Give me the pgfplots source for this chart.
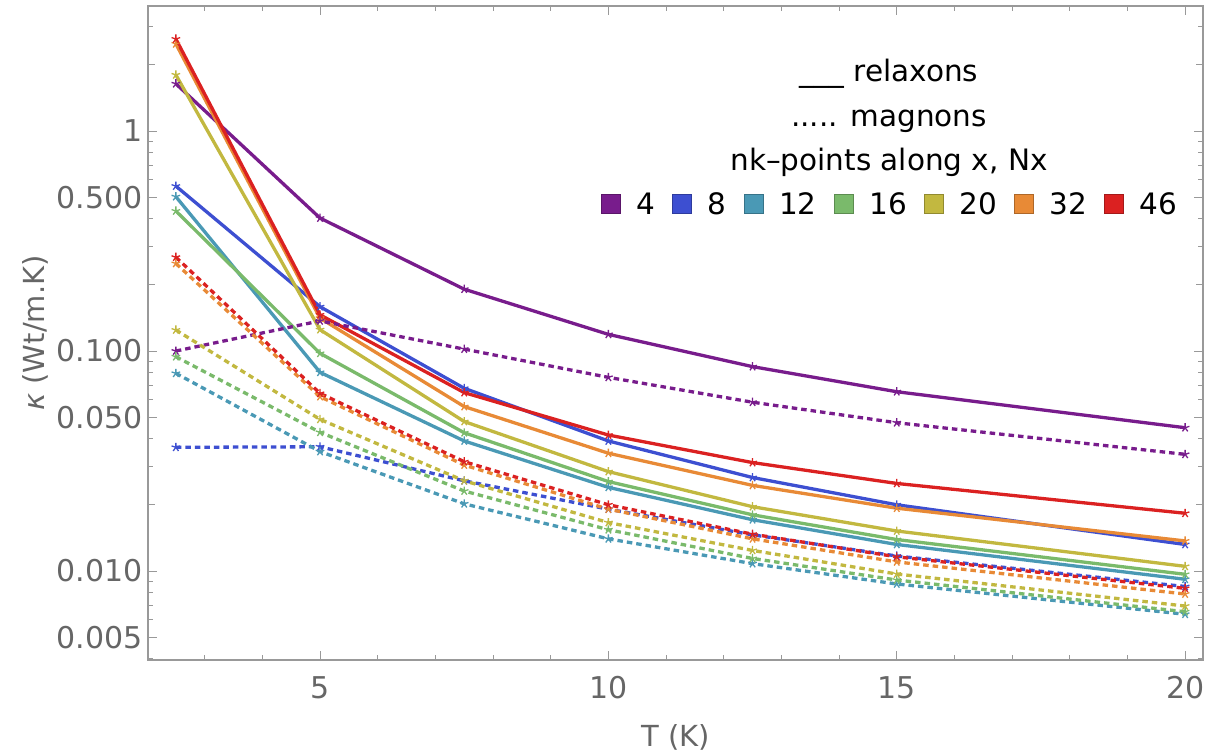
\documentclass[border=0pt]{standalone}
\usepackage{fontspec}
\setmainfont{DejaVu Sans}
\usepackage{pgfplots}
\usepackage{pgfplotstable}
\pgfplotsset{compat=1.18}

\definecolor{c4}{rgb}{0.47,0.11,0.55}
\definecolor{c8}{rgb}{0.24,0.31,0.82}
\definecolor{c12}{rgb}{0.29,0.60,0.71}
\definecolor{c16}{rgb}{0.48,0.73,0.42}
\definecolor{c20}{rgb}{0.76,0.72,0.25}
\definecolor{c32}{rgb}{0.91,0.54,0.21}
\definecolor{c46}{rgb}{0.86,0.13,0.13}
\definecolor{axgray}{rgb}{0.6,0.6,0.6}
\definecolor{labgray}{rgb}{0.4,0.4,0.4}

\pgfplotstableread{
T    k4     k8     k12     k16     k20     k32     k46
2.5  1.64   0.562  0.503   0.433   1.80    2.49    2.62
5    0.402  0.159  0.080   0.0976  0.125   0.141   0.146
7.5  0.191  0.0677 0.0390  0.0425  0.0478  0.0559  0.0647
10   0.119  0.0390 0.0240  0.0255  0.0283  0.0343  0.0415
12.5 0.0849 0.0266 0.0171  0.0180  0.0196  0.0245  0.0311
15   0.0653 0.0200 0.0132  0.0139  0.0152  0.0193  0.0250
20   0.0448 0.0132 0.00917 0.00966 0.0105  0.0137  0.0183
}\relaxons

\pgfplotstableread{
T    k4     k8     k12     k16     k20     k32     k46
2.5  0.100  0.0365 0.0792  0.0942  0.1246  0.250   0.267
5    0.137  0.0367 0.0349  0.0427  0.0489  0.0620  0.0642
7.5  0.102  0.0257 0.0202  0.0231  0.0257  0.0303  0.0314
10   0.0759 0.0191 0.0140  0.0154  0.0166  0.0191  0.0200
12.5 0.0585 0.0146 0.0108  0.0114  0.0124  0.0140  0.0147
15   0.0472 0.0117 0.00873 0.0091  0.00969 0.0110  0.0116
20   0.0339 0.0085 0.00636 0.00653 0.00693 0.00786 0.00834
}\magnons

\begin{document}
\begin{tikzpicture}
\useasboundingbox (-148bp,-94bp) rectangle (1069bp,660bp);
\begin{axis}[
  at={(0,0)}, anchor=south west,
  scale only axis, width=1055bp, height=654bp,
  ymode=log,
  xmin=2.017, xmax=20.31,
  ymin=0.00394, ymax=3.70,
  axis line style={axgray, line width=1.1bp},
  tick style={axgray, line width=0.9bp},
  tick align=inside, tick pos=both,
  major tick length=9bp, minor tick length=5bp,
  xtick={5,10,15,20},
  minor xtick={3,4,6,7,8,9,11,12,13,14,16,17,18,19,20},
  ytick={0.005,0.01,0.05,0.1,0.5,1},
  yticklabels={0.005,0.010,0.050,0.100,0.500,1},
  minor ytick={0.004,0.006,0.007,0.008,0.009,0.02,0.03,0.04,0.06,0.07,0.08,0.09,0.2,0.3,0.4,0.6,0.7,0.8,0.9,2,3},
  extra y ticks={0.02,0.2,2},
  extra y tick labels={},
  extra y tick style={major tick length=7bp},
  /pgf/number format/assume math mode=true,
  ticklabel style={font=\fontsize{30bp}{34bp}\selectfont, text=labgray},
  xticklabel style={yshift=-13bp},
  yticklabel style={xshift=-2bp},
  xlabel={T (K)},
  ylabel={\textit{κ} (Wt/m.K)},
  every axis x label/.style={at={(rel axis cs:0.5,0)}, anchor=center, yshift=-77bp,
    font=\fontsize{29bp}{33bp}\selectfont, text=labgray},
  every axis y label/.style={at={(rel axis cs:0,0.5)}, anchor=center, xshift=-113bp, rotate=90,
    font=\fontsize{29bp}{33bp}\selectfont, text=labgray},
  sol/.style={line width=3.3bp, mark=star, mark size=4.5bp, mark options={solid, line width=1.3bp}},
  mag/.style={sol, dash pattern=on 5.5bp off 4bp},
  legend columns=7,
  legend style={draw=none, fill=none, at={(rel axis cs:0.7024,0.6972)}, anchor=center,
    font=\fontsize{29.5bp}{33bp}\selectfont, inner sep=0pt,
    nodes={inner sep=0pt},
    /tikz/every even column/.append style={column sep=17bp}},
  legend image code/.code={\draw[#1, line width=0.8bp] (0bp,-9bp) rectangle (19bp,10bp); \path (35bp,0bp);},
]
\addlegendimage{fill=c4, draw=c4!75!black}\addlegendentry{4}
\addlegendimage{fill=c8, draw=c8!75!black}\addlegendentry{8}
\addlegendimage{fill=c12, draw=c12!75!black}\addlegendentry{12}
\addlegendimage{fill=c16, draw=c16!75!black}\addlegendentry{16}
\addlegendimage{fill=c20, draw=c20!75!black}\addlegendentry{20}
\addlegendimage{fill=c32, draw=c32!75!black}\addlegendentry{32}
\addlegendimage{fill=c46, draw=c46!75!black}\addlegendentry{46}

\addplot[sol, c4, forget plot] table[x=T, y=k4] {\relaxons};
\addplot[sol, c8, forget plot] table[x=T, y=k8] {\relaxons};
\addplot[sol, c12, forget plot] table[x=T, y=k12] {\relaxons};
\addplot[sol, c16, forget plot] table[x=T, y=k16] {\relaxons};
\addplot[sol, c20, forget plot] table[x=T, y=k20] {\relaxons};
\addplot[sol, c32, forget plot] table[x=T, y=k32] {\relaxons};
\addplot[sol, c46, forget plot] table[x=T, y=k46] {\relaxons};

\addplot[mag, c4, forget plot] table[x=T, y=k4] {\magnons};
\addplot[mag, c8, forget plot] table[x=T, y=k8] {\magnons};
\addplot[mag, c12, forget plot] table[x=T, y=k12] {\magnons};
\addplot[mag, c16, forget plot] table[x=T, y=k16] {\magnons};
\addplot[mag, c20, forget plot] table[x=T, y=k20] {\magnons};
\addplot[mag, c32, forget plot] table[x=T, y=k32] {\magnons};
\addplot[mag, c46, forget plot] table[x=T, y=k46] {\magnons};

\node[anchor=base, font=\fontsize{29.5bp}{33bp}\selectfont] at (rel axis cs:0.7024,0.8838) {\textunderscore\textunderscore\textunderscore\ relaxons};
\node[anchor=base, font=\fontsize{29.5bp}{33bp}\selectfont] at (rel axis cs:0.7024,0.8154) {..... magnons};
\node[anchor=base, font=\fontsize{29.5bp}{33bp}\selectfont] at (rel axis cs:0.7024,0.7492) {nk–points along x, Nx};
\end{axis}
\end{tikzpicture}
\end{document}
